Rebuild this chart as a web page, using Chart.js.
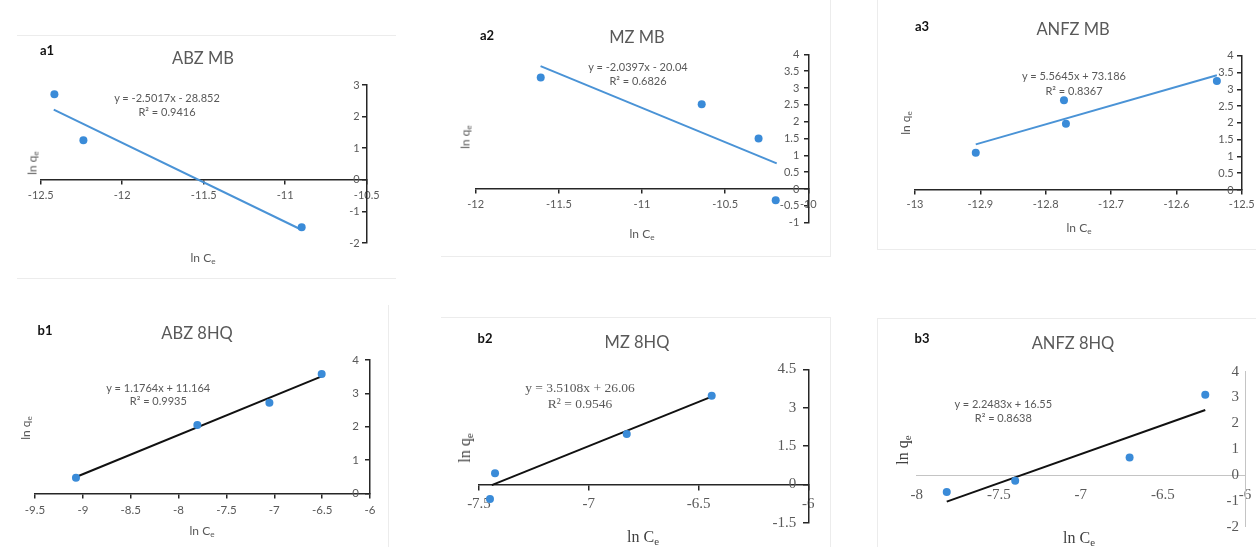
<!DOCTYPE html>
<html>
<head>
<meta charset="utf-8">
<script src="https://cdn.jsdelivr.net/npm/chart.js@4.4.1/dist/chart.umd.min.js"></script>
<style>
  body { margin: 0; background: #fff; }
  #page { position: relative; width: 1256px; height: 547px; overflow: hidden; background: #fff; }
  canvas { position: absolute; }
  .txt { position: absolute; white-space: nowrap; transform: translate(-50%, -50%); color: #595959; }
  .txt sub { font-size: 68%; vertical-align: -0.3em; line-height: 0; }
  .frame { position: absolute; border: 0 solid #ececec; box-sizing: border-box; }
</style>
</head>
<body>
<div id="page"></div>
<script>
// ---- data ----
// a1 ABZ MB
const a1X = [-12.416, -12.238, -10.899];
const a1Y = [2.71, 1.25, -1.50];
const a1TrendX = [-12.42, -10.90];
const a1TrendY = [2.22, -1.58];
const a1XTicks = [-12.5, -12, -11.5, -11, -10.5];
const a1YTicks = [-2, -1, 0, 1, 2, 3];

// a2 MZ MB
const a2X = [-11.609, -10.641, -10.299, -10.196];
const a2Y = [3.31, 2.52, 1.50, -0.33];
const a2TrendX = [-11.61, -10.19];
const a2TrendY = [3.65, 0.76];
const a2XTicks = [-12, -11.5, -11, -10.5, -10];
const a2YTicks = [-1, -0.5, 0, 0.5, 1, 1.5, 2, 2.5, 3, 3.5, 4];

// a3 ANFZ MB
const a3X = [-12.907, -12.772, -12.769, -12.538];
const a3Y = [1.11, 2.67, 1.97, 3.25];
const a3TrendX = [-12.907, -12.538];
const a3TrendY = [1.36, 3.42];
const a3XTicks = [-13, -12.9, -12.8, -12.7, -12.6, -12.5];
const a3YTicks = [0, 0.5, 1, 1.5, 2, 2.5, 3, 3.5, 4];

// b1 ABZ 8HQ
const b1X = [-9.072, -7.804, -7.051, -6.505];
const b1Y = [0.47, 2.05, 2.72, 3.58];
const b1TrendX = [-9.072, -6.505];
const b1TrendY = [0.49, 3.51];
const b1XTicks = [-9.5, -9, -8.5, -8, -7.5, -7, -6.5, -6];
const b1YTicks = [0, 1, 2, 3, 4];

// b2 MZ 8HQ
const b2X = [-7.450, -7.427, -6.827, -6.440];
const b2Y = [-0.57, 0.43, 1.97, 3.47];
const b2TrendX = [-7.442, -6.440];
const b2TrendY = [-0.03, 3.43];
const b2XTicks = [-7.5, -7, -6.5, -6];
const b2YTicks = [-1.5, 0, 1.5, 3, 4.5];

// b3 ANFZ 8HQ
const b3X = [-7.817, -7.400, -6.703, -6.242];
const b3Y = [-0.66, -0.22, 0.68, 3.11];
const b3TrendX = [-7.817, -6.242];
const b3TrendY = [-1.03, 2.52];
const b3XTicks = [-8, -7.5, -7, -6.5, -6];
const b3YTicks = [-2, -1, 0, 1, 2, 3, 4];

// ---- look of the panels ----
const SANS = 'Lato, "Open Sans", sans-serif';
const SERIF = '"Liberation Serif", "DejaVu Serif", serif';
const GREY = '#595959';
const DOT = '#3a8bd8';

const panels = [
  { letter: 'a1', title: 'ABZ MB', eq: ['y = -2.5017x - 28.852', 'R² = 0.9416'],
    xs: a1X, ys: a1Y, tx: a1TrendX, ty: a1TrendY, xt: a1XTicks, yt: a1YTicks,
    box: [0, 30, 400, 255], area: [40.7, 85, 366.7, 243],
    trend: '#4a93d6', serif: false, tickSize: 11, axis: '#262626', axisW: 1.5, tl: 4, xPad: 5, yPad: 3,
    letterAt: [47, 50], titleAt: [203, 58], eqAt: [167, 104.7], eqLh: 14, eqSerif: false,
    xLabAt: [203, 257], yLabAt: [32, 163] },
  { letter: 'a2', title: 'MZ MB', eq: ['y = -2.0397x - 20.04', 'R² = 0.6826'],
    xs: a2X, ys: a2Y, tx: a2TrendX, ty: a2TrendY, xt: a2XTicks, yt: a2YTicks,
    box: [441, 5, 400, 252], area: [475.7, 54.3, 808.3, 222.7],
    trend: '#4a93d6', serif: false, tickSize: 11, axis: '#262626', axisW: 1.5, tl: 4, xPad: 5, yPad: 5,
    letterAt: [487, 35], titleAt: [637, 37], eqAt: [638, 73.8], eqLh: 14.3, eqSerif: false,
    xLabAt: [642, 233], yLabAt: [465, 137] },
  { letter: 'a3', title: 'ANFZ MB', eq: ['y = 5.5645x + 73.186', 'R² = 0.8367'],
    xs: a3X, ys: a3Y, tx: a3TrendX, ty: a3TrendY, xt: a3XTicks, yt: a3YTicks,
    box: [877, 5, 420, 245], area: [915, 55.7, 1241.7, 190],
    trend: '#4a93d6', serif: false, tickSize: 11, axis: '#262626', axisW: 1.5, tl: 4, xPad: 4, yPad: 4,
    letterAt: [922, 26], titleAt: [1073, 29], eqAt: [1074, 83.3], eqLh: 15, eqSerif: false,
    xLabAt: [1079, 227], yLabAt: [905, 123] },
  { letter: 'b1', title: 'ABZ 8HQ', eq: ['y = 1.1764x + 11.164', 'R² = 0.9935'],
    xs: b1X, ys: b1Y, tx: b1TrendX, ty: b1TrendY, xt: b1XTicks, yt: b1YTicks,
    box: [0, 305, 388, 242], area: [35, 360, 370, 493.3],
    trend: '#111111', serif: false, tickSize: 11.5, axis: '#262626', axisW: 1.5, tl: 4, xPad: 6, yPad: 7,
    letterAt: [45, 330], titleAt: [197, 333], eqAt: [158.3, 394], eqLh: 13.4, eqSerif: false,
    xLabAt: [202, 530], yLabAt: [25, 428] },
  { letter: 'b2', title: 'MZ 8HQ', eq: ['y = 3.5108x + 26.06', 'R² = 0.9546'],
    xs: b2X, ys: b2Y, tx: b2TrendX, ty: b2TrendY, xt: b2XTicks, yt: b2YTicks,
    box: [441, 317, 389, 230], area: [479, 369.3, 808.3, 522.7],
    trend: '#111111', serif: true, tickSize: 15, axis: '#262626', axisW: 1.5, tl: 5, xPad: 6, yPad: 7,
    letterAt: [485, 338], titleAt: [637, 342], eqAt: [580, 396.2], eqLh: 15.7, eqSerif: true,
    xLabAt: [643, 537], yLabAt: [465, 448] },
  { letter: 'b3', title: 'ANFZ 8HQ', eq: ['y = 2.2483x + 16.55', 'R² = 0.8638'],
    xs: b3X, ys: b3Y, tx: b3TrendX, ty: b3TrendY, xt: b3XTicks, yt: b3YTicks,
    box: [877, 318, 420, 229], area: [916.7, 371.7, 1245, 526.7],
    trend: '#111111', serif: true, tickSize: 15, axis: '#c4c4c4', axisW: 1, tl: 0, xPad: 11, yPad: 6,
    letterAt: [922, 338], titleAt: [1073, 343], eqAt: [1003.3, 411.2], eqLh: 14.3, eqSerif: false,
    xLabAt: [1079, 538], yLabAt: [903, 450] }
];

// faint frames of the original Excel chart objects
const frames = [
  { l: 17, t: 35, w: 379, h: 244, sides: 'top bottom' },
  { l: 441, t: -2, w: 390, h: 259, sides: 'right bottom' },
  { l: 877, t: -2, w: 390, h: 252, sides: 'left bottom' },
  { l: -2, t: 305, w: 391, h: 260, sides: 'right' },
  { l: 441, t: 317, w: 390, h: 240, sides: 'top right' },
  { l: 877, t: 318, w: 390, h: 240, sides: 'top left' }
];

const page = document.getElementById('page');

frames.forEach(function (f) {
  const d = document.createElement('div');
  d.className = 'frame';
  d.style.left = f.l + 'px';
  d.style.top = f.t + 'px';
  d.style.width = f.w + 'px';
  d.style.height = f.h + 'px';
  f.sides.split(' ').forEach(function (s) {
    d.style['border' + s[0].toUpperCase() + s.slice(1) + 'Width'] = '1px';
  });
  page.appendChild(d);
});

function addText(html, at, css) {
  const d = document.createElement('div');
  d.className = 'txt';
  d.innerHTML = html;
  d.style.left = at[0] + 'px';
  d.style.top = at[1] + 'px';
  Object.assign(d.style, css || {});
  page.appendChild(d);
  return d;
}

function fmt(v) {
  return String(Math.round(v * 100) / 100);
}

function toPoints(xs, ys) {
  const pts = [];
  for (let i = 0; i < xs.length; i++) {
    pts.push({ x: xs[i], y: ys[i] });
  }
  return pts;
}

panels.forEach(function (p) {
  const [bl, bt, bw, bh] = p.box;
  const [al, at, ar, ab] = p.area;

  const canvas = document.createElement('canvas');
  canvas.width = bw;
  canvas.height = bh;
  canvas.style.left = bl + 'px';
  canvas.style.top = bt + 'px';
  page.appendChild(canvas);

  const tickFont = { family: p.serif ? SERIF : SANS, size: p.tickSize };
  const xMin = p.xt[0], xMax = p.xt[p.xt.length - 1];
  const yMin = p.yt[0], yMax = p.yt[p.yt.length - 1];

  // y labels of a crossing axis sit right-aligned on the axis line,
  // so a second label-only axis is shifted left by tick + gap
  const pxPerX = (ar - al) / (xMax - xMin);
  const labelX = xMax - (p.tl + p.yPad) / pxPerX;
  const setYTicks = function (s) { s.ticks = p.yt.map(function (v) { return { value: v }; }); };

  const gridOpts = {
    drawOnChartArea: false,
    drawTicks: p.tl > 0,
    tickLength: p.tl,
    color: p.axis,
    tickColor: p.axis,
    tickWidth: p.axisW,
    lineWidth: p.axisW
  };

  new Chart(canvas, {
    type: 'scatter',
    data: {
      datasets: [
        {
          label: 'data',
          data: toPoints(p.xs, p.ys),
          pointRadius: 4,
          pointHoverRadius: 4,
          pointBackgroundColor: DOT,
          pointBorderWidth: 0,
          showLine: false,
          clip: false
        },
        {
          label: 'trend',
          data: toPoints(p.tx, p.ty),
          showLine: true,
          pointRadius: 0,
          borderColor: p.trend,
          borderWidth: 2,
          fill: false,
          clip: false
        }
      ]
    },
    options: {
      responsive: false,
      animation: false,
      events: [],
      layout: {
        padding: { left: al - bl, top: at - bt, right: bl + bw - ar, bottom: bt + bh - ab }
      },
      plugins: {
        legend: { display: false },
        tooltip: { enabled: false },
        title: { display: false }
      },
      scales: {
        x: {
          type: 'linear',
          min: xMin,
          max: xMax,
          position: { y: 0 },
          afterBuildTicks: function (s) { s.ticks = p.xt.map(function (v) { return { value: v }; }); },
          grid: gridOpts,
          border: { display: true, color: p.axis, width: p.axisW },
          ticks: { color: GREY, font: tickFont, padding: p.xPad, maxRotation: 0, autoSkip: false, callback: fmt }
        },
        y: {
          type: 'linear',
          min: yMin,
          max: yMax,
          position: { x: xMax },
          afterBuildTicks: setYTicks,
          grid: gridOpts,
          border: { display: true, color: p.axis, width: p.axisW },
          ticks: { display: false }
        },
        yLabels: {
          type: 'linear',
          axis: 'y',
          min: yMin,
          max: yMax,
          position: { x: labelX },
          afterBuildTicks: setYTicks,
          grid: { display: false, drawTicks: false },
          border: { display: false },
          ticks: { color: GREY, font: tickFont, padding: 0, autoSkip: false, callback: fmt }
        }
      }
    }
  });

  // texts
  addText(p.letter, p.letterAt, { fontFamily: SANS, fontWeight: 'bold', fontSize: '13px', color: '#111' });
  addText(p.title, p.titleAt, { fontFamily: SANS, fontSize: '16.5px', color: GREY });
  addText(p.eq.join('<br>'), p.eqAt, {
    fontFamily: p.eqSerif ? SERIF : SANS,
    fontSize: p.eqSerif ? '13.5px' : '11px',
    lineHeight: p.eqLh + 'px',
    textAlign: 'center',
    color: GREY
  });
  const labFont = p.serif ? { fontFamily: SERIF, fontSize: '16px', color: '#404040' }
                          : { fontFamily: SANS, fontSize: '12px', color: GREY };
  addText('ln C<sub>e</sub>', p.xLabAt, labFont);
  addText('ln q<sub>e</sub>', p.yLabAt, Object.assign({ transform: 'translate(-50%, -50%) rotate(-90deg)' }, labFont));
});
</script>
</body>
</html>
